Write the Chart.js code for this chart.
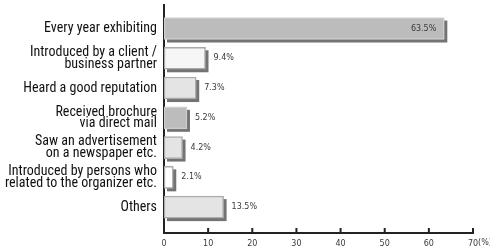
<!DOCTYPE html>
<html><head><meta charset="utf-8">
<script src="https://cdn.jsdelivr.net/npm/chart.js@4/dist/chart.umd.min.js"></script>
<style>html,body{margin:0;padding:0;background:#fff;}#wrap{width:490px;height:251px;}</style>
</head><body><div id="wrap"><canvas id="c" width="490" height="251"></canvas></div>
<script>
const categories = [
  ["Every year exhibiting"],
  ["Introduced by a client /", "business partner"],
  ["Heard a good reputation"],
  ["Received brochure", "via direct mail"],
  ["Saw an advertisement", "on a newspaper etc."],
  ["Introduced by persons who", "related to the organizer etc."],
  ["Others"]
];
const values = [63.5, 9.4, 7.3, 5.2, 4.2, 2.1, 13.5];
const valueLabels = ["63.5%", "9.4%", "7.3%", "5.2%", "4.2%", "2.1%", "13.5%"];
const xTicks = [0, 10, 20, 30, 40, 50, 60, 70];
const unitLabel = "(%)";
const barColors = ["#bcbcbc", "#f6f6f6", "#e4e4e4", "#bcbcbc", "#e4e4e4", "#ffffff", "#e4e4e4"];
const barBorders = ["#cfcfcf", "#a9a9a9", "#acacac", "#cdcdcd", "#acacac", "#a9a9a9", "#acacac"];

const valueFont = "8px 'DejaVu Sans'";

const shadowPlugin = {
  id: 'shadow',
  beforeDatasetsDraw(chart) {
    const ctx = chart.ctx;
    const meta = chart.getDatasetMeta(0);
    ctx.save();
    ctx.fillStyle = '#737373';
    meta.data.forEach(bar => {
      const p = bar.getProps(['x', 'y', 'base', 'height'], true);
      const left = Math.min(p.base, p.x);
      const w = Math.abs(p.x - p.base);
      ctx.fillRect(left + 3, p.y - p.height / 2 + 3, w, p.height);
    });
    ctx.restore();
  },
  afterDatasetsDraw(chart) {
    const ctx = chart.ctx;
    const meta = chart.getDatasetMeta(0);
    ctx.save();
    ctx.font = valueFont;
    ctx.fillStyle = '#3a3a3a';
    ctx.textBaseline = 'middle';
    meta.data.forEach((bar, i) => {
      const p = bar.getProps(['x', 'y'], true);
      if (i === 0) {
        ctx.textAlign = 'right';
        ctx.fillText(valueLabels[i], p.x - 8, p.y);
      } else {
        ctx.textAlign = 'left';
        ctx.fillText(valueLabels[i], p.x + 8, p.y);
      }
    });
    ctx.restore();
  },
  afterDraw(chart) {
    const ctx = chart.ctx;
    const xs = chart.scales.x;
    const bottom = chart.chartArea.bottom;
    ctx.save();
    ctx.strokeStyle = '#222';
    ctx.lineWidth = 2;
    xTicks.forEach(v => {
      if (v === 0) return;
      const px = xs.getPixelForValue(v);
      ctx.beginPath();
      ctx.moveTo(px, bottom - 5);
      ctx.lineTo(px, bottom);
      ctx.stroke();
    });
    ctx.font = valueFont;
    ctx.fillStyle = '#3a3a3a';
    ctx.textAlign = 'left';
    ctx.textBaseline = 'middle';
    const last = xTicks[xTicks.length - 1];
    const lx = xs.getPixelForValue(last) + ctx.measureText(String(last)).width / 2;
    ctx.fillText(unitLabel, lx, bottom + 10);
    ctx.restore();
  }
};

new Chart(document.getElementById('c'), {
  type: 'bar',
  data: {
    datasets: [{
      data: values.map((v, i) => ({ x: v, y: i })),
      backgroundColor: barColors,
      borderColor: barBorders,
      borderWidth: 1.5,
      borderSkipped: false,
      barThickness: 22
    }]
  },
  options: {
    indexAxis: 'y',
    responsive: false,
    devicePixelRatio: 1,
    animation: false,
    layout: { padding: { top: 5, right: 17, left: 0, bottom: 0 } },
    plugins: { legend: { display: false }, tooltip: { enabled: false } },
    scales: {
      x: {
        type: 'linear',
        min: 0, max: 70,
        afterBuildTicks: s => { s.ticks = xTicks.map(v => ({ value: v })); },
        afterFit: s => { s.height = 18; },
        ticks: { font: { family: 'DejaVu Sans', size: 8 }, color: '#3a3a3a', padding: 6, maxRotation: 0, autoSkip: false },
        grid: { display: false, drawTicks: false },
        border: { color: '#222', width: 2 }
      },
      y: {
        type: 'linear',
        reverse: true,
        offset: false,
        min: -0.79, max: 6.87,
        afterBuildTicks: s => { s.ticks = categories.map((_, i) => ({ value: i })); },
        afterFit: s => { s.width = 164; s.paddingTop = 0; s.paddingBottom = 0; },
        ticks: {
          callback: v => categories[v],
          font: { family: "'Roboto Condensed', sans-serif", size: 14, lineHeight: 0.82 },
          color: '#111', padding: 7, autoSkip: false
        },
        grid: { display: false, drawTicks: false },
        border: { color: '#222', width: 2 }
      }
    }
  },
  plugins: [shadowPlugin]
});
</script>
</body></html>
